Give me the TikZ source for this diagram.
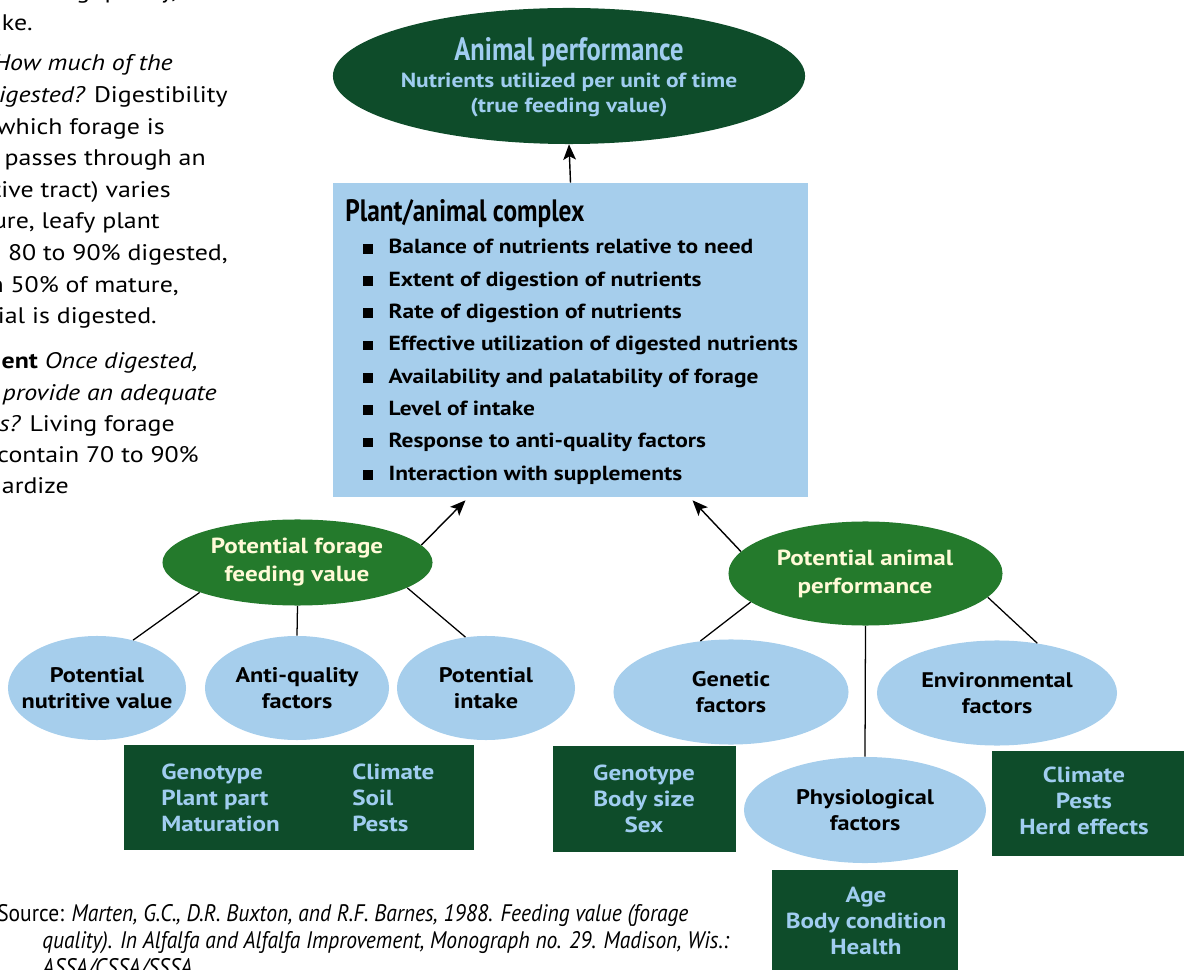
\documentclass[tikz,border=0pt]{standalone}
\usepackage{fontspec}
\setmainfont{PT Sans}[FakeStretch=1.15]
\newfontfamily\condfont{PT Sans}[FakeStretch=0.82]
\newfontfamily\srcfont{PT Sans}[FakeStretch=0.9]
\usetikzlibrary{shapes.geometric,calc,arrows.meta}

\definecolor{darkleaf}{RGB}{14,76,42}
\definecolor{midleaf}{RGB}{36,122,44}
\definecolor{skyfill}{RGB}{166,206,236}
\definecolor{skytext}{RGB}{160,205,240}
\definecolor{creamtext}{RGB}{255,250,215}

\tikzset{
  topell/.style={ellipse, fill=darkleaf, inner sep=0pt},
  potell/.style={ellipse, fill=midleaf, inner sep=0pt},
  factell/.style={ellipse, fill=skyfill, inner sep=0pt},
  leafbox/.style={rectangle, fill=darkleaf, inner sep=0pt},
  potlbl/.style={align=center, text=creamtext, inner sep=0pt,
    font=\bfseries\fontsize{15.5}{20.5}\selectfont},
  factlbl/.style={align=center, text=black, inner sep=0pt,
    font=\bfseries\fontsize{15}{18.5}\selectfont},
  boxlbl/.style={align=center, text=skytext, inner sep=0pt,
    font=\bfseries\fontsize{15.5}{18.4}\selectfont},
  pagetxt/.style={anchor=base east, inner sep=0pt, font=\fontsize{16}{22}\selectfont},
  srctxt/.style={anchor=base west, inner sep=0pt, font=\srcfont\fontsize{17}{19}\selectfont},
  conn/.style={line width=0.9pt},
  arr/.style={line width=1pt, ->}
}

\begin{document}
\begin{tikzpicture}[x=0.025cm, y=-0.025cm, >={Stealth[length=11pt,width=9pt,inset=2.5pt]}]
  \useasboundingbox (0,0) rectangle (1184,970);
  \clip (0,0) rectangle (1184,970);

  % page text at the left edge
  \node[pagetxt] (pg0) at (225,-1) {ing quality, and};
  \foreach \xr/\yb/\txt [count=\i] in {
      33/31/{ake.},
      173/71/{\itshape How much of the},
      228/103/{{\itshape digested?} Digestibility},
      165/135/{which forage is},
      206/166/{passes through an},
      171/198/{tive tract) varies},
      160/229/{ure, leafy plant},
      228/261/{e 80 to 90\% digested,},
      179/293/{n 50\% of mature,},
      157/324/{ial is digested.},
      198/369/{{\bfseries ent} {\itshape Once digested,}},
      217/401/{\itshape provide an adequate},
      175/432/{{\itshape ts?} Living forage},
      199/463/{contain 70 to 90\%},
      69/494/{ardize}}
    \node[pagetxt] (pg\i) at (\xr,\yb) {\txt};

  % source
  \node[srctxt] (src1) at (-3,921) {Source: {\itshape Marten, G.C., D.R. Buxton, and R.F. Barnes, 1988. Feeding value (forage}};
  \node[srctxt] (src2) at (42,948) {\itshape quality). In Alfalfa and Alfalfa Improvement, Monograph no. 29. Madison, Wis.:};
  \node[srctxt] (src3) at (42,975) {\itshape ASSA/CSSA/SSSA.};

  % animal performance
  \node[topell, minimum width=11.8cm, minimum height=3.4cm] (ap) at (569,76) {};
  \node[text=skytext, inner sep=0pt, font=\condfont\bfseries\fontsize{23}{24}\selectfont] (ap1) at (569,52) {Animal performance};
  \node[text=skytext, inner sep=0pt, font=\bfseries\fontsize{14.5}{17}\selectfont] (ap2) at (569,82) {Nutrients utilized per unit of time};
  \node[text=skytext, inner sep=0pt, font=\bfseries\fontsize{14.5}{17}\selectfont] (ap3) at (569,107) {(true feeding value)};

  % plant/animal complex
  \node[fill=skyfill, inner sep=0pt, minimum width=11.875cm, minimum height=7.85cm] (pac) at (570.5,340) {};
  \node[anchor=base west, inner sep=0pt, font=\condfont\bfseries\fontsize{22}{24}\selectfont] (pact) at (345,222) {Plant/animal complex};
  \foreach \txt [count=\i] in {Balance of nutrients relative to need,
      Extent of digestion of nutrients,
      Rate of digestion of nutrients,
      Effective utilization of digested nutrients,
      Availability and palatability of forage,
      Level of intake,
      Response to anti-quality factors,
      Interaction with supplements}
    \node[anchor=base west, inner sep=0pt, font=\bfseries\fontsize{14.5}{18}\selectfont]
      (it\i) at (363,{254+32.3*(\i-1)}) {\rule[0.3pt]{7pt}{7pt}\hspace{11pt}\txt};

  % potential forage feeding value
  \node[potell, minimum width=6.75cm, minimum height=2.15cm] (pff) at (297.5,562.5) {};
  \node[potlbl] (pfft) at (297,562) {Potential forage\\feeding value};
  \node[factell, minimum width=4.45cm, minimum height=2.6cm] (pnv) at (97,688) {};
  \node[factlbl] (pnvt) at (97,688) {Potential\\nutritive value};
  \node[factell, minimum width=4.6cm, minimum height=2.6cm] (aqf) at (297,688) {};
  \node[factlbl] (aqft) at (297,688) {Anti-quality\\factors};
  \node[factell, minimum width=4.45cm, minimum height=2.6cm] (pint) at (486,688) {};
  \node[factlbl] (pintt) at (486,688) {Potential\\intake};
  \node[leafbox, minimum width=8.75cm, minimum height=2.625cm] (gb1) at (299,797.5) {};
  \node[boxlbl, align=left, anchor=west] (gb1l) at (161,798) {Genotype\\Plant part\\Maturation};
  \node[boxlbl, align=left, anchor=west] (gb1r) at (352,798) {Climate\\Soil\\Pests};

  % potential animal performance
  \node[potell, minimum width=6.85cm, minimum height=2.6cm] (pap) at (865.5,573.5) {};
  \node[potlbl] (papt) at (865,574) {Potential animal\\performance};
  \node[factell, minimum width=5.875cm, minimum height=2.625cm] (gen) at (731,692) {};
  \node[factlbl] (gent) at (731,692) {Genetic\\factors};
  \node[factell, minimum width=6cm, minimum height=2.625cm] (env) at (997,693) {};
  \node[factlbl] (envt) at (997,693) {Environmental\\factors};
  \node[factell, minimum width=6.05cm, minimum height=2.65cm] (phy) at (865,810) {};
  \node[factlbl] (phyt) at (865,810) {Physiological\\factors};
  \node[leafbox, minimum width=4.575cm, minimum height=2.65cm] (gb2) at (644.5,799) {};
  \node[boxlbl] (gb2t) at (644,799) {Genotype\\Body size\\Sex};
  \node[leafbox, minimum width=4.8cm, minimum height=2.625cm] (gb3) at (1088,803.5) {};
  \node[boxlbl] (gb3t) at (1084,801) {Climate\\Pests\\Herd effects};
  \node[leafbox, minimum width=4.65cm, minimum height=2.625cm] (gb4) at (865,922.5) {};
  \node[boxlbl] (gb4t) at (866,921) {Age\\Body condition\\Health};

  % connectors
  \draw[conn] (pff.197) -- (pnv.53);
  \draw[conn] (pff.south) -- (aqf.north);
  \draw[conn] (pff.347) -- (pint.112);
  \draw[conn] (pap.194) -- (gen.121);
  \draw[conn] (pap.south) -- (phy.north);
  \draw[conn] (pap.349) -- (env.51);

  % arrows
  \draw[arr] (pac.north) -- (ap.south);
  \draw[arr] (pff.8) -- ($(pac.south)+(-105,3)$);
  \draw[arr] (pap.170) -- ($(pac.south)+(122,3)$);

\end{tikzpicture}
\end{document}
